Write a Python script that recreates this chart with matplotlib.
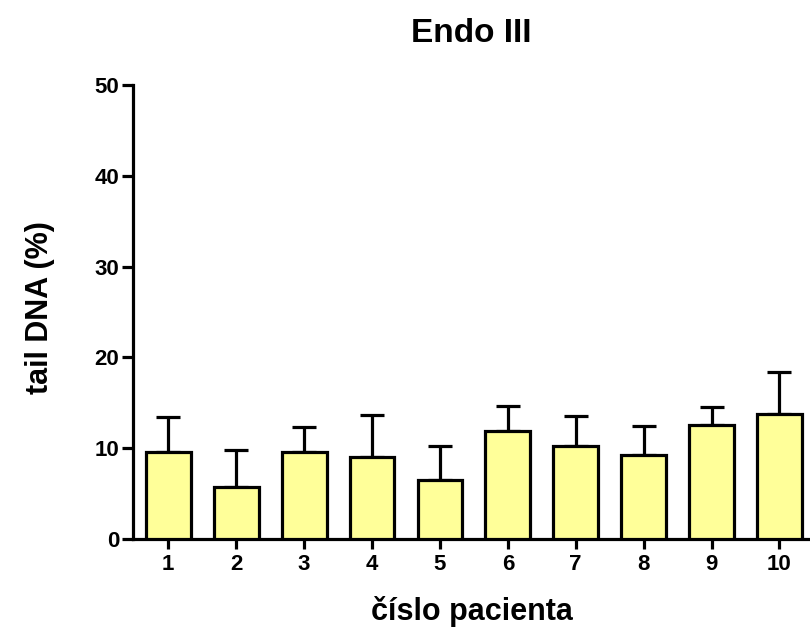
import matplotlib.pyplot as plt
import numpy as np

plt.rcParams['font.family'] = ['Liberation Sans', 'DejaVu Sans']
plt.rcParams['font.weight'] = 'bold'

pacienti = [1, 2, 3, 4, 5, 6, 7, 8, 9, 10]
tail_dna = [9.55, 5.75, 9.55, 9.0, 6.5, 11.95, 10.2, 9.3, 12.6, 13.8]
sd = [3.9, 4.1, 2.8, 4.7, 3.75, 2.75, 3.35, 3.15, 1.95, 4.55]

fig = plt.figure(figsize=(8.1, 6.28), dpi=100)
ax = fig.add_axes([0.1642, 0.1417, 0.8358, 0.7229])

x = np.array(pacienti)
lw = 2.3
ax.bar(x, tail_dna, width=0.66, color='#FFFF99', edgecolor='black',
       linewidth=lw, zorder=3)
# one-sided (upper) error bars
ax.errorbar(x, tail_dna, yerr=[np.zeros(len(sd)), sd], fmt='none',
            ecolor='black', elinewidth=lw, capsize=8.5, capthick=lw, zorder=2)

ax.set_xlim(0.48, 10.45)
ax.set_ylim(0, 50)
ax.set_yticks([0, 10, 20, 30, 40, 50])
ax.set_xticks(x)

for s in ['top', 'right']:
    ax.spines[s].set_visible(False)
for s in ['left', 'bottom']:
    ax.spines[s].set_linewidth(lw)
ax.spines['left'].set_bounds(0, 50)

ax.tick_params(axis='y', length=8, width=lw, pad=2, labelsize=16)
ax.tick_params(axis='x', length=7, width=lw, pad=4, labelsize=16)
for lab in ax.get_xticklabels() + ax.get_yticklabels():
    lab.set_fontweight('bold')

ax.set_title('Endo III', fontsize=24, fontweight='bold', pad=31)
ax.set_xlabel('číslo pacienta', fontsize=22, fontweight='bold', labelpad=15)
ax.set_ylabel('tail DNA (%)', fontsize=22, fontweight='bold')
ax.yaxis.set_label_coords(-0.115, 0.51)

fig.savefig('out.png', dpi=100)
